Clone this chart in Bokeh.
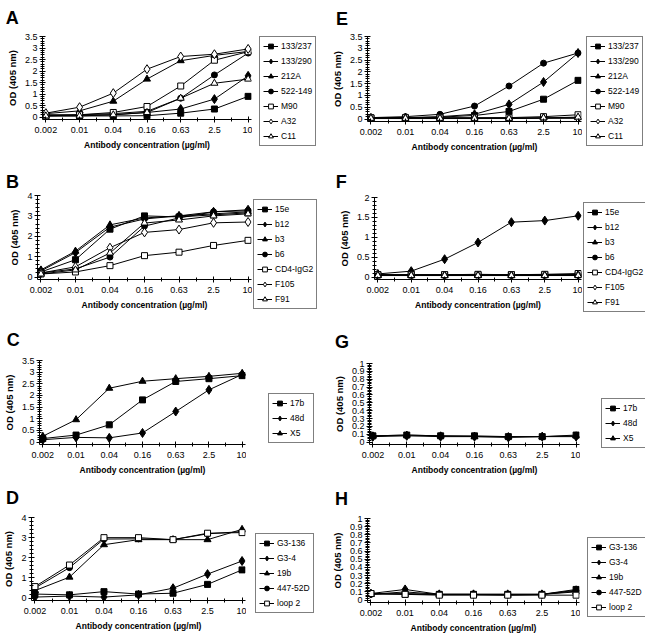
import numpy as np
from bokeh.plotting import figure
from bokeh.models import Range1d, FixedTicker, CustomJSTickFormatter, Legend, LegendItem
from bokeh.layouts import column, row
from bokeh.embed import file_html
from bokeh.resources import INLINE

# ---------------- data ----------------
conc_labels = ["0.002", "0.01", "0.04", "0.16", "0.63", "2.5", "10"]
x_title = "Antibody concentration (\u00b5g/ml)"
y_title = "OD (405 nm)"

A_names = ["133/237", "133/290", "212A", "522-149", "M90", "A32", "C11"]
A_133_237 = [0.05, 0.05, 0.05, 0.06, 0.17, 0.35, 0.90]
A_133_290 = [0.08, 0.08, 0.10, 0.20, 0.35, 0.78, 1.79]
A_212A = [0.15, 0.27, 0.69, 1.65, 2.45, 2.68, 2.85]
A_522_149 = [0.10, 0.10, 0.15, 0.25, 0.82, 1.83, 2.78]
A_M90 = [0.05, 0.10, 0.20, 0.46, 1.35, 2.47, 2.84]
A_A32 = [0.17, 0.43, 1.04, 2.08, 2.63, 2.73, 2.96]
A_C11 = [0.05, 0.05, 0.10, 0.20, 0.82, 1.47, 1.65]

E_133_237 = [0.05, 0.05, 0.08, 0.15, 0.32, 0.84, 1.64]
E_133_290 = [0.05, 0.06, 0.10, 0.20, 0.62, 1.57, 2.80]
E_212A = [0.04, 0.04, 0.05, 0.05, 0.05, 0.05, 0.06]
E_522_149 = [0.06, 0.10, 0.20, 0.55, 1.40, 2.37, 2.80]
E_M90 = [0.05, 0.05, 0.05, 0.05, 0.06, 0.10, 0.18]
E_A32 = [0.02, 0.02, 0.02, 0.02, 0.02, 0.03, 0.03]
E_C11 = [0.03, 0.03, 0.03, 0.03, 0.03, 0.05, 0.08]

B_names = ["15e", "b12", "b3", "b6", "CD4-IgG2", "F105", "F91"]
B_15e = [0.25, 0.85, 2.35, 3.00, 2.95, 3.05, 3.15]
B_b12 = [0.30, 1.20, 2.45, 2.85, 3.00, 3.20, 3.30]
B_b3 = [0.35, 1.27, 2.56, 2.90, 3.00, 3.10, 3.20]
B_b6 = [0.20, 0.40, 0.98, 2.50, 2.90, 3.20, 3.25]
B_CD4 = [0.15, 0.25, 0.56, 1.05, 1.22, 1.55, 1.80]
B_F105 = [0.20, 0.50, 1.44, 2.19, 2.33, 2.66, 2.70]
B_F91 = [0.15, 0.35, 1.18, 2.65, 2.80, 3.00, 3.10]

F_15e = [0.06, 0.06, 0.06, 0.06, 0.06, 0.06, 0.06]
F_b12 = [0.08, 0.15, 0.45, 0.87, 1.38, 1.42, 1.54]
F_b3 = [0.05, 0.05, 0.05, 0.05, 0.05, 0.05, 0.06]
F_b6 = [0.05, 0.05, 0.05, 0.05, 0.05, 0.06, 0.06]
F_CD4 = [0.06, 0.06, 0.06, 0.07, 0.06, 0.07, 0.09]
F_F105 = [0.04, 0.04, 0.04, 0.04, 0.04, 0.04, 0.05]
F_F91 = [0.04, 0.04, 0.04, 0.04, 0.04, 0.04, 0.04]

C_names = ["17b", "48d", "X5"]
C_17b = [0.15, 0.30, 0.74, 1.81, 2.60, 2.72, 2.85]
C_48d = [0.10, 0.20, 0.18, 0.39, 1.31, 2.24, 2.90]
C_X5 = [0.25, 0.96, 2.31, 2.61, 2.72, 2.82, 2.95]

G_17b = [0.08, 0.09, 0.08, 0.08, 0.07, 0.07, 0.09]
G_48d = [0.07, 0.08, 0.07, 0.07, 0.06, 0.07, 0.07]
G_X5 = [0.08, 0.09, 0.08, 0.07, 0.07, 0.07, 0.08]

D_names = ["G3-136", "G3-4", "19b", "447-52D", "loop 2"]
D_G3_136 = [0.20, 0.16, 0.32, 0.20, 0.24, 0.68, 1.40]
D_G3_4 = [0.05, 0.10, 0.05, 0.16, 0.49, 1.19, 1.84]
D_19b = [0.37, 1.04, 2.65, 2.90, 2.90, 2.90, 3.41]
D_447_52D = [0.50, 1.51, 2.93, 2.94, 2.90, 3.19, 3.30]
D_loop2 = [0.57, 1.64, 3.00, 3.00, 2.90, 3.22, 3.25]

H_G3_136 = [0.08, 0.07, 0.07, 0.07, 0.07, 0.07, 0.13]
H_G3_4 = [0.08, 0.13, 0.07, 0.07, 0.07, 0.07, 0.12]
H_19b = [0.07, 0.10, 0.07, 0.07, 0.06, 0.07, 0.10]
H_447_52D = [0.07, 0.08, 0.07, 0.07, 0.07, 0.07, 0.11]
H_loop2 = [0.08, 0.07, 0.06, 0.06, 0.06, 0.06, 0.06]

# ---------------- styles ----------------
STY = {
    "sq": ("square", 6, "black"),
    "di": ("diamond", 9, "black"),
    "tr": ("triangle", 7, "black"),
    "ci": ("circle", 6, "black"),
    "osq": ("square", 6, "white"),
    "odi": ("diamond", 9, "white"),
    "otr": ("triangle", 7, "white"),
}
seven = ["sq", "di", "tr", "ci", "osq", "odi", "otr"]
three = ["sq", "di", "tr"]
five = ["sq", "di", "tr", "ci", "osq"]

FONT = "Liberation Sans"
LETTER_PX = 18


def draw_series(p, names, series, styles):
    xs = list(range(len(conc_labels)))
    items = []
    for name, ys, st in zip(names, series, styles):
        marker, size, fill = STY[st]
        ln = p.line(xs, ys, line_color="black", line_width=1)
        sc = p.scatter(xs, ys, marker=marker, size=size, fill_color=fill,
                       line_color="black", line_width=1)
        items.append(LegendItem(label=name, renderers=[ln, sc]))
    return items


def panel(letter, names, series, styles, ymax, ymajor, yminor, geom):
    fig_x, fig_y, col_right, H, fx0, fx6, fy_top, fy0, leg_x, leg_y, let_x, let_top = geom
    u = (fx6 - fx0) / 6.0
    xpad = 0.1
    frame_left = fx0 - xpad * u
    frame_right = fx6 + xpad * u
    frame_top = fy_top
    frame_bottom = fy_top + (fy0 - fy_top) * 1.03
    W = int(round(frame_right + 2 - fig_x))
    bl = int(round(frame_left - fig_x))
    br = W - bl - int(round(frame_right - frame_left))
    bt = int(round(frame_top - fig_y))
    bb = int(round(fig_y + H - frame_bottom))

    p = figure(width=W, height=H, x_range=Range1d(-xpad, 6 + xpad),
               y_range=Range1d(-0.03 * ymax, ymax),
               min_border_left=bl, min_border_right=br,
               min_border_top=bt, min_border_bottom=bb,
               output_backend="svg", toolbar_location=None,
               title=letter, title_location="above")
    p.frame_align = False
    p.outline_line_color = None
    p.xgrid.visible = False
    p.ygrid.visible = False

    # panel letter: title sits just above the frame; standoff sets the gap
    text_h = 1.117 * LETTER_PX
    cap_off = 0.189 * LETTER_PX
    gap = frame_top - let_top
    s = 2.0 * (gap - 2 - text_h + cap_off)
    s = max(0.0, min(s, bt - 2 - text_h - 0.5))
    p.title.text_font = FONT
    p.title.text_font_size = "%dpx" % LETTER_PX
    p.title.text_font_style = "bold"
    p.title.text_color = "black"
    p.title.align = "left"
    p.title.vertical_align = "top"
    p.title.offset = let_x - 2 - frame_left
    p.title.standoff = s

    draw_series(p, names, series, styles)

    xa = p.xaxis[0]
    xs = list(range(len(conc_labels)))
    xa.ticker = FixedTicker(ticks=xs, minor_ticks=[i + 0.5 for i in xs[:-1]])
    xa.major_label_overrides = {i: lab for i, lab in enumerate(conc_labels)}
    xa.axis_label = x_title
    ya = p.yaxis[0]
    nmaj = int(round(ymax / ymajor))
    nmin = int(round(ymax / yminor))
    ya.ticker = FixedTicker(ticks=[round(i * ymajor, 4) for i in range(nmaj + 1)],
                            minor_ticks=[round(i * yminor, 4) for i in range(nmin + 1)])
    ya.formatter = CustomJSTickFormatter(code="return tick.toFixed(2).replace(/\\.?0+$/, '');")
    ya.axis_label = y_title
    for ax in (xa, ya):
        ax.axis_line_color = "black"
        ax.major_tick_line_color = "black"
        ax.minor_tick_line_color = "black"
        ax.major_tick_in = 3
        ax.major_tick_out = 3
        ax.minor_tick_in = 2
        ax.minor_tick_out = 2
        ax.major_label_text_font = FONT
        ax.major_label_text_font_size = "9px"
        ax.major_label_text_color = "black"
        ax.axis_label_text_font = FONT
        ax.axis_label_text_font_style = "bold"
        ax.axis_label_text_color = "black"
    xa.axis_label_text_font_size = "8.5px"
    ya.axis_label_text_font_size = "9.5px"
    xa.major_label_standoff = 4
    xa.axis_label_standoff = 4
    ya.major_label_standoff = 2
    ya.axis_label_standoff = 4

    # legend lives in its own narrow figure to the right of the plot
    lx = fig_x + W
    LW = col_right - lx
    q = figure(width=LW, height=H, x_range=Range1d(100, 101), y_range=Range1d(100, 101),
               x_axis_location=None, y_axis_location=None,
               min_border_left=max(0, int(round(leg_x - lx))), min_border_right=0,
               min_border_top=int(round(leg_y - fig_y)), min_border_bottom=0,
               output_backend="svg", toolbar_location=None)
    q.frame_align = False
    q.outline_line_color = None
    q.xgrid.visible = False
    q.ygrid.visible = False
    items = draw_series(q, names, series, styles)
    leg = Legend(items=items, location="top_left", orientation="vertical",
                 padding=3, spacing=3, margin=0,
                 glyph_width=15, glyph_height=12, label_height=12,
                 label_standoff=3, label_text_font=FONT, label_text_font_size="8.5px",
                 label_text_color="black", border_line_color="black",
                 border_line_width=1, background_fill_color="white",
                 background_fill_alpha=1.0)
    q.add_layout(leg)
    return [p, q]


R = 320   # left column right edge
RR = 645  # right column right edge
pA = panel("A", A_names, [A_133_237, A_133_290, A_212A, A_522_149, A_M90, A_A32, A_C11],
           seven, 3.5, 0.5, 0.1, (0, 0, R, 156, 45, 247, 36, 117, 259, 36, 7, 10))
pE = panel("E", A_names, [E_133_237, E_133_290, E_212A, E_522_149, E_M90, E_A32, E_C11],
           seven, 3.5, 0.5, 0.1, (R, 0, RR, 156, 370, 577, 36, 119, 586, 36, 337, 12))
pB = panel("B", B_names, [B_15e, B_b12, B_b3, B_b6, B_CD4, B_F105, B_F91],
           seven, 4, 1, 0.2, (0, 156, R, 158, 40, 247, 195, 277, 253, 199, 7, 175))
pF = panel("F", B_names, [F_15e, F_b12, F_b3, F_b6, F_CD4, F_F105, F_F91],
           seven, 2, 0.5, 0.1, (R, 156, RR, 158, 377, 577, 197, 277, 583, 202, 337, 175))
pC = panel("C", C_names, [C_17b, C_48d, C_X5],
           three, 3.5, 0.5, 0.1, (0, 314, R, 163, 40, 241, 360, 442, 268, 393, 6, 333))
pG = panel("G", C_names, [G_17b, G_48d, G_X5],
           three, 1, 0.1, 0.02, (R, 314, RR, 163, 372, 575, 363, 444, 601, 398, 336, 335))
pD = panel("D", D_names, [D_G3_136, D_G3_4, D_19b, D_447_52D, D_loop2],
           five, 4, 1, 0.2, (0, 477, R, 158, 33, 241, 517, 598, 255, 533, 6, 491))
pH = panel("H", D_names, [H_G3_136, H_G3_4, H_19b, H_447_52D, H_loop2],
           five, 1, 0.1, 0.02, (R, 477, RR, 158, 370, 575, 518, 600, 587, 537, 336, 492))

layout = column(row(*pA, *pE), row(*pB, *pF), row(*pC, *pG), row(*pD, *pH))
open("out.html", "w").write(file_html(layout, INLINE))
